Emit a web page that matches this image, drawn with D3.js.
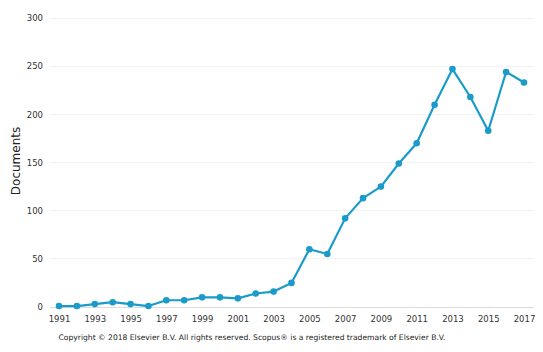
<!DOCTYPE html>
<html>
<head>
<meta charset="utf-8">
<script src="https://cdn.jsdelivr.net/npm/d3@7"></script>
<style>
    body { margin: 0; background: #fff; }
    svg { display: block; font-family: "DejaVu Sans", sans-serif; }
</style>
</head>
<body>
<div id="chart"></div>
<script>
const years = [1991, 1992, 1993, 1994, 1995, 1996, 1997, 1998, 1999, 2000, 2001, 2002, 2003, 2004,
    2005, 2006, 2007, 2008, 2009, 2010, 2011, 2012, 2013, 2014, 2015, 2016, 2017];
const documents = [1, 1, 3, 5, 3, 1, 7, 7, 10, 10, 9, 14, 16, 25,
    60, 55, 92, 113, 125, 149, 170, 210, 247, 218, 183, 244, 233];
const yTicks = [0, 50, 100, 150, 200, 250, 300];
const xTicks = [1991, 1993, 1995, 1997, 1999, 2001, 2003, 2005, 2007, 2009, 2011, 2013, 2015, 2017];

const width = 543, height = 352;
const margin = {top: 18, right: 9, bottom: 45, left: 50};

const svg = d3.select('#chart').append('svg')
    .attr('width', width)
    .attr('height', height);

const x = d3.scaleLinear()
    .domain([1991, 2017])
    .range([59, 524]);

const y = d3.scaleLinear()
    .domain([0, 300])
    .range([height - margin.bottom, margin.top]);

// grid lines
svg.append('g')
    .selectAll('line')
    .data(yTicks)
    .enter().append('line')
    .attr('x1', margin.left)
    .attr('x2', width - margin.right)
    .attr('y1', d => y(d))
    .attr('y2', d => y(d))
    .attr('stroke', d => d === 0 ? '#dcdcdc' : '#f3f3f3')
    .attr('stroke-width', 1)
    .attr('shape-rendering', 'crispEdges');

// y axis labels
svg.append('g')
    .attr('transform', `translate(${margin.left - 7},0)`)
    .call(d3.axisLeft(y).tickValues(yTicks).tickSize(0).tickPadding(0))
    .call(g => g.select('.domain').remove())
    .call(g => g.selectAll('text')
        .style('font-size', '8.5px')
        .style('font-family', '"DejaVu Sans", sans-serif')
        .attr('fill', '#333'));

// x axis labels
svg.append('g')
    .attr('transform', `translate(0,${y(0) + 9})`)
    .call(d3.axisBottom(x).tickValues(xTicks).tickFormat(d3.format('d')).tickSize(0).tickPadding(0))
    .call(g => g.select('.domain').remove())
    .call(g => g.selectAll('text')
        .style('font-size', '8.5px')
        .style('font-family', '"DejaVu Sans", sans-serif')
        .attr('fill', '#333'));

// axis title
svg.append('text')
    .attr('transform', `translate(20,161) rotate(-90)`)
    .attr('text-anchor', 'middle')
    .style('font-size', '12px')
    .attr('fill', '#222')
    .text('Documents');

// line
const line = d3.line()
    .x((d, i) => x(years[i]))
    .y(d => y(d));

svg.append('path')
    .datum(documents)
    .attr('fill', 'none')
    .attr('stroke', '#1a9bc9')
    .attr('stroke-width', 2.2)
    .attr('stroke-linejoin', 'round')
    .attr('d', line);

svg.append('g')
    .selectAll('circle')
    .data(documents)
    .enter().append('circle')
    .attr('cx', (d, i) => x(years[i]))
    .attr('cy', d => y(d))
    .attr('r', 3.3)
    .attr('fill', '#1a9bc9');

// copyright
svg.append('text')
    .attr('x', 252)
    .attr('y', 340)
    .attr('text-anchor', 'middle')
    .style('font-size', '7.6px')
    .attr('fill', '#222')
    .text('Copyright \u00A9 2018 Elsevier B.V. All rights reserved. Scopus\u00AE is a registered trademark of Elsevier B.V.');
</script>
</body>
</html>
